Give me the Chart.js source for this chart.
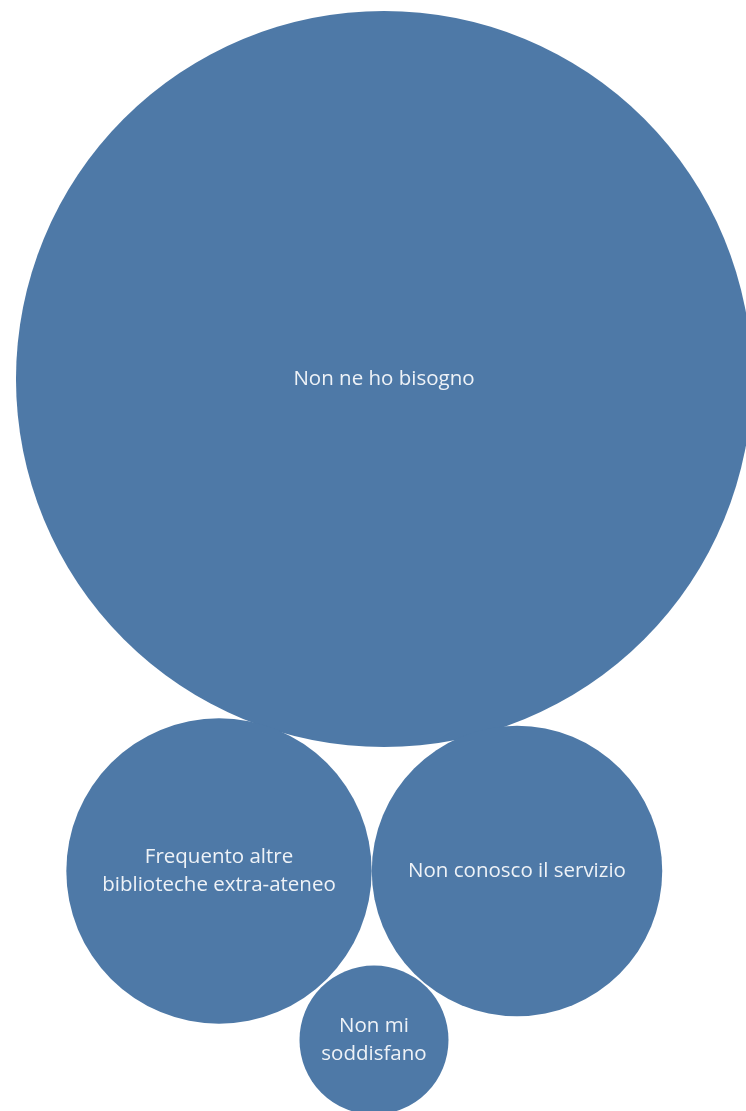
<!DOCTYPE html>
<html>
<head>
<meta charset="utf-8">
<script src="https://cdn.jsdelivr.net/npm/chart.js@4"></script>
<style>
  html, body { margin: 0; padding: 0; background: #ffffff; }
  #wrap { width: 746px; height: 1111px; position: relative; }
</style>
</head>
<body>
<div id="wrap"><canvas id="bubbleChart"></canvas></div>
<script>
// categories and counts (bubble area ~ count)
const labels = [
    'Non ne ho bisogno',
    'Frequento altre biblioteche extra-ateneo',
    'Non conosco il servizio',
    'Non mi soddisfano'
];
const counts = [244, 42, 38, 10];
// packed layout positions (layout units)
const posX = [384, 219, 517, 374];
const posY = [379, 871, 871, 1040];
// label lines as shown inside bubbles
const labelLines = [
    ['Non ne ho bisogno'],
    ['Frequento altre', 'biblioteche extra-ateneo'],
    ['Non conosco il servizio'],
    ['Non mi', 'soddisfano']
];

const SIZE_K = 23.56; // bubble radius per sqrt(count)

const points = counts.map((c, i) => ({
    x: posX[i],
    y: posY[i],
    r: SIZE_K * Math.sqrt(c)
}));

// draws the category name in the middle of each bubble
const bubbleLabels = {
    id: 'bubbleLabels',
    afterDatasetsDraw(chart) {
        const ctx = chart.ctx;
        const meta = chart.getDatasetMeta(0);
        ctx.save();
        ctx.fillStyle = '#eef2f7';
        ctx.font = '20.5px "Open Sans"';
        ctx.textAlign = 'center';
        ctx.textBaseline = 'middle';
        meta.data.forEach((el, i) => {
            const lines = labelLines[i];
            const lh = 28;
            const top = el.y - (lines.length - 1) * lh / 2;
            lines.forEach((t, j) => ctx.fillText(t, el.x, top + j * lh));
        });
        ctx.restore();
    }
};

const ctx = document.getElementById('bubbleChart');
const myChart = new Chart(ctx, {
    type: 'bubble',
    data: {
        labels: labels,
        datasets: [{
            data: points,
            backgroundColor: '#4e79a7',
            hoverBackgroundColor: '#4e79a7',
            borderWidth: 0,
            hoverBorderWidth: 0,
            hoverRadius: 0,
            clip: false
        }]
    },
    options: {
        responsive: true,
        maintainAspectRatio: false,
        animation: false,
        events: [],
        layout: { padding: 0, autoPadding: false },
        scales: {
            x: { type: 'linear', min: 0, max: 746, display: false },
            y: { type: 'linear', min: 0, max: 1111, reverse: true, display: false }
        },
        plugins: {
            legend: { display: false },
            tooltip: { enabled: false }
        }
    },
    plugins: [bubbleLabels]
});
</script>
</body>
</html>
